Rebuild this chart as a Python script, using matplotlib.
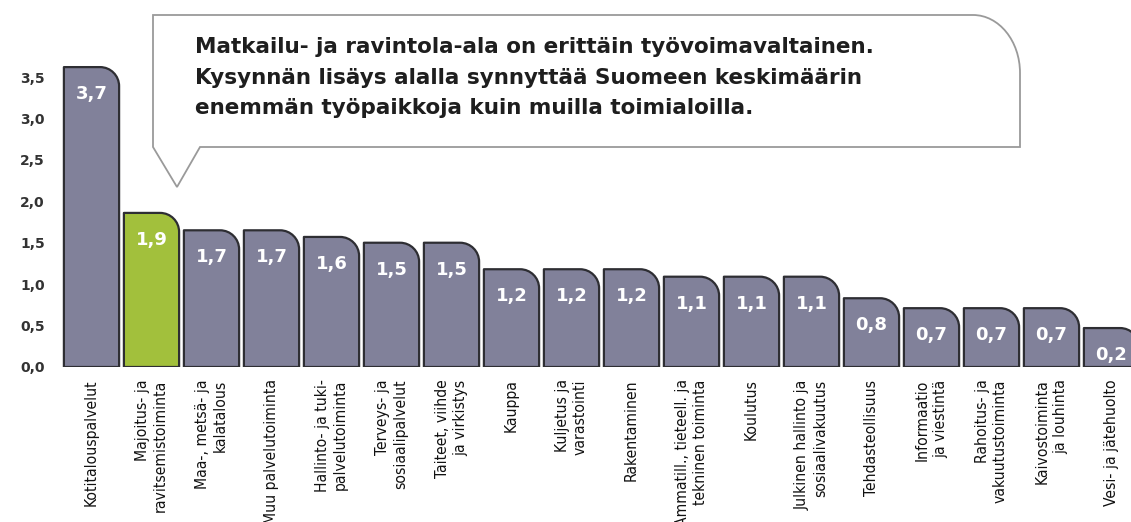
import matplotlib
matplotlib.use("Agg")
import matplotlib.pyplot as plt
from matplotlib.path import Path
from matplotlib.patches import PathPatch
from matplotlib import font_manager
from matplotlib.font_manager import FontProperties

# ---- data ----
categories = [
    "Kotitalouspalvelut",
    "Majoitus- ja\nravitsemistoiminta",
    "Maa-, metsä- ja\nkalatalous",
    "Muu palvelutoiminta",
    "Hallinto- ja tuki-\npalvelutoiminta",
    "Terveys- ja\nsosiaalipalvelut",
    "Taiteet, viihde\nja virkistys",
    "Kauppa",
    "Kuljetus ja\nvarastointi",
    "Rakentaminen",
    "Ammatill., tieteell. ja\ntekninen toiminta",
    "Koulutus",
    "Julkinen hallinto ja\nsosiaalivakuutus",
    "Tehdasteollisuus",
    "Informaatio\nja viestintä",
    "Rahoitus- ja\nvakuutustoiminta",
    "Kaivostoiminta\nja louhinta",
    "Vesi- ja jätehuolto",
]
bar_heights = [3.62, 1.86, 1.65, 1.65, 1.57, 1.50, 1.50, 1.18, 1.18, 1.18,
               1.09, 1.09, 1.09, 0.83, 0.71, 0.71, 0.71, 0.47]
value_labels = ["3,7", "1,9", "1,7", "1,7", "1,6", "1,5", "1,5", "1,2", "1,2", "1,2",
                "1,1", "1,1", "1,1", "0,8", "0,7", "0,7", "0,7", "0,2"]
highlight_index = 1
y_ticks = [0.0, 0.5, 1.0, 1.5, 2.0, 2.5, 3.0, 3.5]
y_tick_labels = ["0,0", "0,5", "1,0", "1,5", "2,0", "2,5", "3,0", "3,5"]
callout_lines = [
    "Matkailu- ja ravintola-ala on erittäin työvoimavaltainen.",
    "Kysynnän lisäys alalla synnyttää Suomeen keskimäärin",
    "enemmän työpaikkoja kuin muilla toimialoilla.",
]

# ---- style ----
W, H = 1131, 522
DPI = 100
GRAY = "#81819a"
GREEN = "#a2c03c"
EDGE = "#2e2e33"


def pick_narrow_font():
    best = None
    for f in font_manager.fontManager.ttflist:
        name = f.name
        st = f.stretch
        narrow = ("Narrow" in name or "Condensed" in name or
                  st in ("condensed", "semi-condensed", "extra-condensed",
                         "ultra-condensed") or
                  (isinstance(st, (int, float)) and st < 500))
        if not narrow:
            continue
        if "Mono" in name or "Serif" in name or "CJK" in name:
            continue
        w = f.weight
        regular = w in ("normal", "regular", 400, "book")
        italic = f.style != "normal"
        score = (0 if regular else 1) + (2 if italic else 0)
        if best is None or score < best[0]:
            best = (score, f.fname)
    if best is not None:
        return FontProperties(fname=best[1])
    avail = {f.name for f in font_manager.fontManager.ttflist}
    for c in ["Roboto", "Noto Sans", "Liberation Sans", "DejaVu Sans"]:
        if c in avail:
            return FontProperties(family=c)
    return FontProperties(family="DejaVu Sans")


fig = plt.figure(figsize=(W / DPI, H / DPI), dpi=DPI)
fig.patch.set_facecolor("white")

ax_left_px, ax_bottom_px = 60, 367
ax = fig.add_axes([ax_left_px / W, (H - ax_bottom_px) / H,
                   (W - ax_left_px) / W, ax_bottom_px / H])
ax.set_facecolor("none")
ax.set_xlim(-0.525, 17.325)
ax.set_ylim(0, 4.43)
for s in ax.spines.values():
    s.set_visible(False)

x = list(range(len(categories)))
colors = [GREEN if i == highlight_index else GRAY for i in x]
bars = ax.bar(x, bar_heights, width=0.92, color=colors)

# replace rectangles with top-right rounded shapes
fig.canvas.draw()
renderer = fig.canvas.get_renderer()
p0 = ax.transData.transform((0, 0))
p1 = ax.transData.transform((1, 1))
px_x = p1[0] - p0[0]
px_y = p1[1] - p0[1]
r_px = 19
rx, ry = r_px / px_x, r_px / px_y
k = 0.5523
for rect in bars.patches:
    x0 = rect.get_x()
    w = rect.get_width()
    h = rect.get_height()
    x1 = x0 + w
    verts = [(x0, 0), (x0, h), (x1 - rx, h),
             (x1 - rx + k * rx, h), (x1, h - ry + k * ry), (x1, h - ry),
             (x1, 0), (x0, 0)]
    codes = [Path.MOVETO, Path.LINETO, Path.LINETO,
             Path.CURVE4, Path.CURVE4, Path.CURVE4,
             Path.LINETO, Path.CLOSEPOLY]
    patch = PathPatch(Path(verts, codes), facecolor=rect.get_facecolor(),
                      edgecolor=EDGE, linewidth=1.6, joinstyle="round",
                      clip_on=True)
    ax.add_patch(patch)
    rect.set_visible(False)

for xi, h, lab in zip(x, bar_heights, value_labels):
    ax.annotate(lab, (xi, h), xytext=(0, -27), textcoords="offset pixels",
                ha="center", va="center", color="white", fontsize=13,
                fontweight="bold", family="DejaVu Sans")

ax.set_yticks(y_ticks)
ax.set_yticklabels(y_tick_labels, fontsize=10, fontweight="bold", color="#333333")

# x labels in a narrow font, sized so a long label spans ~130 px
label_fp = pick_narrow_font()
label_fp.set_size(12)
probe = fig.text(0, 0, "ravitsemistoiminta", fontproperties=label_fp)
wpx = probe.get_window_extent(renderer).width
probe.remove()
label_size = max(8.0, min(15.0, 12 * 132.0 / wpx))
label_fp.set_size(label_size)
line_px = label_size * DPI / 72.0
linesp = 20.5 / (line_px * 1.05)

ax.set_xticks(x)
ax.set_xticklabels(categories, rotation=90, ha="center", va="top",
                   multialignment="right", color="#111111",
                   fontproperties=label_fp, linespacing=linesp)
ax.tick_params(axis="both", length=0)
ax.tick_params(axis="y", pad=11)
ax.tick_params(axis="x", pad=9)

# ---- callout box (figure pixel coordinates) ----
ov = fig.add_axes([0, 0, 1, 1])
ov.set_xlim(0, W)
ov.set_ylim(H, 0)
ov.axis("off")
ov.patch.set_alpha(0)
bl, bt, br, bb = 153, 15, 1020, 147
crx, cry = 47, 58
cverts = [(bl, bt), (br - crx, bt),
          (br - crx + k * crx, bt), (br, bt + cry - k * cry), (br, bt + cry),
          (br, bb), (200, bb), (177, 187), (bl, bb), (bl, bt)]
ccodes = [Path.MOVETO, Path.LINETO,
          Path.CURVE4, Path.CURVE4, Path.CURVE4,
          Path.LINETO, Path.LINETO, Path.LINETO, Path.LINETO, Path.CLOSEPOLY]
ov.add_patch(PathPatch(Path(cverts, ccodes), facecolor="white",
                       edgecolor="#9a9a9a", linewidth=1.3))
for yy, line in zip([47, 78, 108], callout_lines):
    ov.text(195, yy, line, ha="left", va="center", fontsize=15.5,
            fontweight="bold", color="#1e1e1e", family="DejaVu Sans")

fig.savefig("out.png", dpi=DPI, facecolor="white")
